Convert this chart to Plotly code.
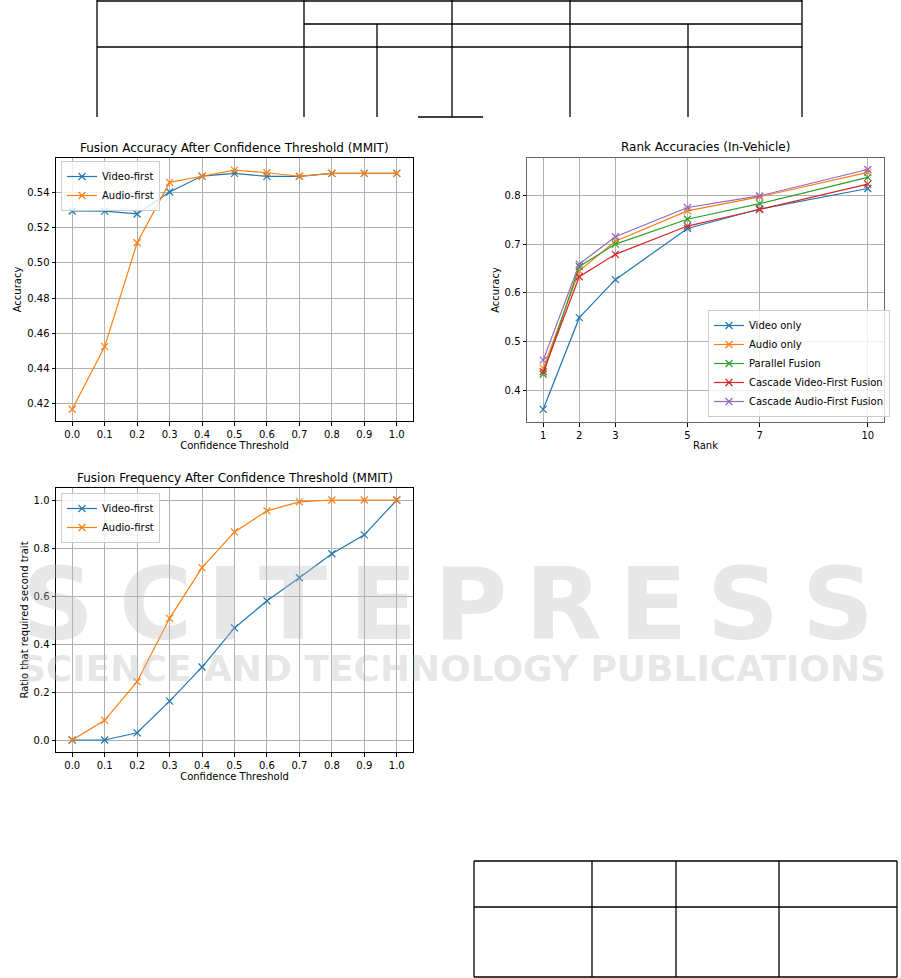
import plotly.graph_objects as go

W, H = 901, 978

# ---------------- data ----------------
thresholds = [0.0, 0.1, 0.2, 0.3, 0.4, 0.5, 0.6, 0.7, 0.8, 0.9, 1.0]
acc_video_first = [0.5296, 0.5295, 0.5279, 0.5404, 0.5495, 0.5510, 0.5493, 0.5493, 0.5510, 0.5510, 0.5510]
acc_audio_first = [0.4166, 0.4523, 0.5115, 0.5459, 0.5494, 0.5529, 0.5514, 0.5494, 0.5510, 0.5510, 0.5510]

freq_video_first = [0.0, 0.0, 0.030, 0.162, 0.304, 0.467, 0.580, 0.676, 0.776, 0.855, 1.0]
freq_audio_first = [0.0, 0.082, 0.243, 0.507, 0.718, 0.867, 0.955, 0.992, 1.0, 1.0, 1.0]

ranks = [1, 2, 3, 5, 7, 10]
rank_video_only = [0.361, 0.549, 0.627, 0.732, 0.772, 0.814]
rank_audio_only = [0.445, 0.645, 0.706, 0.768, 0.797, 0.847]
rank_parallel = [0.433, 0.654, 0.700, 0.751, 0.783, 0.837]
rank_cascade_video = [0.438, 0.633, 0.679, 0.737, 0.771, 0.823]
rank_cascade_audio = [0.462, 0.659, 0.715, 0.775, 0.799, 0.853]

threshold_ticks = [0.0, 0.1, 0.2, 0.3, 0.4, 0.5, 0.6, 0.7, 0.8, 0.9, 1.0]
acc_ticks = [0.42, 0.44, 0.46, 0.48, 0.50, 0.52, 0.54]
freq_ticks = [0.0, 0.2, 0.4, 0.6, 0.8, 1.0]
rank_acc_ticks = [0.4, 0.5, 0.6, 0.7, 0.8]

# ---------------- style ----------------
BLUE, ORANGE, GREEN, RED, PURPLE = "#1f77b4", "#ff7f0e", "#2ca02c", "#d62728", "#9467bd"
FONT = "DejaVu Sans"


def px_x(p):
    return p / W


def px_y(p):
    return 1 - p / H


fig = go.Figure()


def add_line(x, y, name, color, xa, ya, legend):
    fig.add_trace(go.Scatter(
        x=x, y=y, name=name, mode="lines+markers",
        line=dict(color=color, width=1.2),
        marker=dict(symbol="x-thin", size=7, line=dict(color=color, width=1.2), color=color),
        xaxis=xa, yaxis=ya, legend=legend,
    ))


add_line(thresholds, acc_video_first, "Video-first", BLUE, "x", "y", "legend")
add_line(thresholds, acc_audio_first, "Audio-first", ORANGE, "x", "y", "legend")
add_line(thresholds, freq_video_first, "Video-first", BLUE, "x2", "y2", "legend2")
add_line(thresholds, freq_audio_first, "Audio-first", ORANGE, "x2", "y2", "legend2")
add_line(ranks, rank_video_only, "Video only", BLUE, "x3", "y3", "legend3")
add_line(ranks, rank_audio_only, "Audio only", ORANGE, "x3", "y3", "legend3")
add_line(ranks, rank_parallel, "Parallel Fusion", GREEN, "x3", "y3", "legend3")
add_line(ranks, rank_cascade_video, "Cascade Video-First Fusion", RED, "x3", "y3", "legend3")
add_line(ranks, rank_cascade_audio, "Cascade Audio-First Fusion", PURPLE, "x3", "y3", "legend3")


def axis_common(frame="#000000"):
    return dict(
        showline=True, linecolor=frame, linewidth=1, mirror=True,
        ticks="outside", ticklen=3.5, tickwidth=1, tickcolor="#000000",
        showgrid=True, gridcolor="#b0b0b0", gridwidth=0.8, zeroline=False,
        tickfont=dict(family=FONT, size=10, color="#000000"),
    )


def dom(x0, x1, y0, y1):
    return dict(x=[px_x(x0), px_x(x1)], y=[px_y(y1), px_y(y0)])


d1 = dom(56, 413, 158, 421)
d2 = dom(56, 413, 488, 752)
d3 = dom(527, 884, 158, 422)

fig.update_layout(
    width=W, height=H, margin=dict(l=0, r=0, t=0, b=0),
    paper_bgcolor="white", plot_bgcolor="rgba(0,0,0,0)",
    font=dict(family=FONT, size=10, color="#000000"),
    xaxis=dict(domain=d1["x"], anchor="y", range=[-0.05, 1.05], tickvals=threshold_ticks, tickformat=".1f",
               title=dict(text="Confidence Threshold", standoff=2, font=dict(size=10)), **axis_common()),
    yaxis=dict(domain=d1["y"], anchor="x", range=[0.4099, 0.5598], tickvals=acc_ticks, tickformat=".2f",
               title=dict(text="Accuracy", standoff=3, font=dict(size=10)), **axis_common()),
    xaxis2=dict(domain=d2["x"], anchor="y2", range=[-0.05, 1.05], tickvals=threshold_ticks, tickformat=".1f",
                title=dict(text="Confidence Threshold", standoff=2, font=dict(size=10)), **axis_common()),
    yaxis2=dict(domain=d2["y"], anchor="x2", range=[-0.05, 1.05], tickvals=freq_ticks, tickformat=".1f",
                title=dict(text="Ratio that required second trait", standoff=3, font=dict(size=10)), **axis_common()),
    xaxis3=dict(domain=d3["x"], anchor="y3", range=[0.55, 10.45], tickvals=ranks,
                title=dict(text="Rank", standoff=2, font=dict(size=10)), **axis_common("#666666")),
    yaxis3=dict(domain=d3["y"], anchor="x3", range=[0.335, 0.8766], tickvals=rank_acc_ticks, tickformat=".1f",
                title=dict(text="Accuracy", standoff=3, font=dict(size=10)), **axis_common("#666666")),
)

leg_common = dict(bgcolor="rgba(255,255,255,0.8)", bordercolor="#cccccc", borderwidth=1,
                  font=dict(family=FONT, size=10, color="#000000"), xanchor="left",
                  itemwidth=30, tracegroupgap=0)
fig.update_layout(
    legend=dict(x=px_x(61), y=px_y(161), yanchor="top", **leg_common),
    legend2=dict(x=px_x(61), y=px_y(493), yanchor="top", **leg_common),
    legend3=dict(x=px_x(708), y=px_y(417), yanchor="bottom", **leg_common),
)

# subplot titles
for text, cx, cy in [("Fusion Accuracy After Confidence Threshold (MMIT)", 234.5, 148),
                     ("Fusion Frequency After Confidence Threshold (MMIT)", 234.5, 478),
                     ("Rank Accuracies (In-Vehicle)", 705.5, 147)]:
    fig.add_annotation(text=text, x=px_x(cx), y=px_y(cy), xref="paper", yref="paper",
                       showarrow=False, xanchor="center", yanchor="middle",
                       font=dict(family=FONT, size=12, color="#000000"))

# table rules (page decoration)
shapes = []


def seg(x0, y0, x1, y1, w=1.3):
    shapes.append(dict(type="line", xref="paper", yref="paper", x0=px_x(x0), y0=px_y(y0),
                       x1=px_x(x1), y1=px_y(y1), line=dict(color="#000000", width=w)))


# top table
seg(97, 1, 802, 1)
seg(304, 24, 802, 24)
seg(97, 47, 802, 47)
for xv in [97, 304, 452, 570, 802]:
    seg(xv, 0, xv, 117)
for xv in [377, 688]:
    seg(xv, 24, xv, 117)
seg(418, 117, 483, 117)
# bottom table
seg(474, 861, 897, 861)
seg(474, 907, 897, 907)
seg(474, 977, 897, 977)
for xv in [474, 592, 676, 779, 897]:
    seg(xv, 861, xv, 977)

fig.update_layout(shapes=shapes)

# watermark
WM = "rgba(185,185,185,0.35)"
for ch, cx in zip("SCITEPRESS", [58, 155, 225, 293, 383, 470, 563, 653, 743, 838]):
    fig.add_annotation(text=ch, x=px_x(cx), y=px_y(604), xref="paper", yref="paper", showarrow=False,
                       xanchor="center", yanchor="middle",
                       font=dict(family=FONT, size=100, color=WM, weight="bold"))
fig.add_annotation(text="SCIENCE AND TECHNOLOGY PUBLICATIONS", x=px_x(453), y=px_y(668), xref="paper",
                   yref="paper", showarrow=False, xanchor="center", yanchor="middle",
                   font=dict(family=FONT, size=36, color=WM, weight="bold"))

fig.write_html("out.html", config={"displayModeBar": False},
               post_script="document.body.style.margin='0';")
